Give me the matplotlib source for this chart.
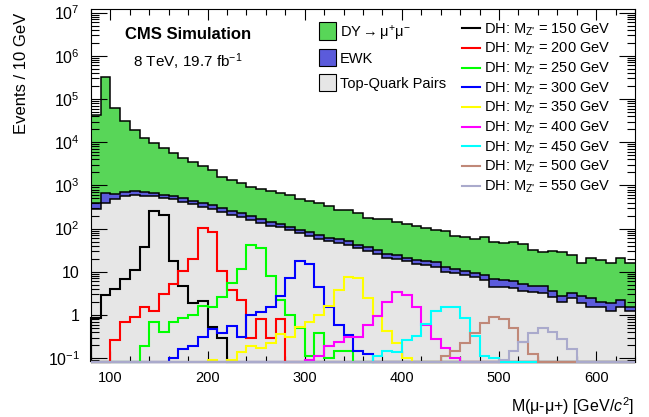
import numpy as np
import matplotlib
matplotlib.use("Agg")
import matplotlib.pyplot as plt
from matplotlib.patches import Rectangle
from matplotlib.lines import Line2D
from matplotlib.ticker import MultipleLocator, LogLocator, NullFormatter

plt.rcParams["font.family"] = ["Liberation Sans", "DejaVu Sans"]
plt.rcParams["mathtext.fontset"] = "custom"
plt.rcParams["mathtext.rm"] = "Liberation Sans"
plt.rcParams["mathtext.it"] = "Liberation Sans:italic"
plt.rcParams["mathtext.bf"] = "Liberation Sans:bold"
plt.rcParams["mathtext.sf"] = "Liberation Sans"

# ---- binning: 10 GeV bins from 80 to 640 GeV ----
edges = np.arange(80, 641, 10)

# ---- background processes (events per bin) ----
ttbar = [280, 388, 492, 564, 595, 574, 564, 508, 474, 416,
         369, 320, 287, 245, 209, 188, 157, 137, 116.5, 107,
         92.3, 77.8, 67.2, 58.6, 50.9, 47.0, 42.3, 35.6, 30.8, 26.1,
         21.4, 20.2, 17.6, 15.2, 14.1, 13.2, 9.7, 9.14, 8.3, 7.46,
         6.45, 4.5, 4.5, 4.23, 3.68, 3.41, 3.18, 2.59, 1.96, 2.41,
         1.87, 1.56, 1.51, 1.22, 1.56, 1.27]
ewk = [102, 292, 138, 136, 133, 127, 112, 99, 93, 94,
       73, 77, 59, 55, 43, 38, 39, 33, 27.5, 21,
       18.7, 16.5, 14.5, 12.4, 10.5, 9.6, 9.5, 6.6, 5.7, 5.7,
       4.7, 4.0, 3.7, 3.3, 3.9, 3.9, 3.5, 2.76, 2.3, 2.04,
       1.85, 2.2, 1.95, 1.77, 1.57, 1.29, 1.52, 0.91, 0.82, 0.78,
       0.82, 0.85, 0.54, 0.65, 0.67, 0.29]
dy = [41100, 319300, 62370, 30000, 18170, 12000, 8824, 6593, 4933, 3890,
      3008, 2443, 1874, 1290, 1058, 894, 739, 642, 606, 548,
      487, 397, 354, 314, 273, 218, 214, 192, 142.5, 138,
      139, 121, 107, 94.5, 83, 74.4, 74.4, 56.1, 54.1, 47.1,
      54.5, 42.2, 39.2, 42.9, 38, 26.8, 24.3, 26.8, 26.2, 21,
      13.6, 18.9, 16.45, 14.1, 18.7, 14.7]

# ---- dark-Higgs signal samples: (first bin low edge, bin contents) ----
dh_masses = [150, 200, 250, 300, 350, 400, 450, 500, 550]
dh150 = (80, [0.84, 2.93, 4.0, 6.8, 11, 38, 251, 210, 18, 4.65, 1.9, 2.12, 0.54, 0.30])
dh200 = (100, [0.267, 0.70, 0.876, 1.5, 1.26, 3.0, 5.2, 10.4, 19.4, 101, 84.5, 10.6,
               3.74, 2.2, 0.29, 0.81, 0.29, 0.81])
dh250 = (130, [0.187, 0.70, 0.41, 0.70, 0.84, 1.0, 1.6, 1.55, 2.63, 5.4, 11.6, 41, 35.8,
               8.0, 2.2, 1.0, 0.49, 0.11, 0.38, 0.10, 0.144, 0.144])
dh300 = (160, [0.10, 0.161, 0.192, 0.317, 0.466, 0.378, 0.555, 0.317, 1.0, 1.2, 1.54, 2.76,
               7.1, 17.8, 15.3, 4.47, 1.5, 0.573, 0.345, 0.144, 0.127])
dh350 = (200, [0.093, 0, 0.093, 0.142, 0.192, 0.17, 0.222, 0.36, 0.317, 0.52, 0.70, 1.01,
               1.63, 3.74, 7.75, 7.0, 2.48, 0.965, 0.43, 0.23, 0.101])
dh400 = (300, [0.093, 0.11, 0.187, 0.24, 0.305, 0.31, 0.593, 0.95, 2.04, 3.45, 2.85, 1.57,
               0.593, 0.275, 0.175, 0.10])
dh450 = (370, [0.11, 0.15, 0.14, 0.266, 0.326, 0.61, 1.21, 1.55, 1.53, 0.867, 0.335, 0.115, 0.10])
dh500 = (440, [0.11, 0.144, 0.222, 0.378, 0.663, 0.91, 0.8, 0.49, 0.24, 0.127])
dh550 = (500, [0.089, 0.149, 0.231, 0.387, 0.49, 0.413, 0.283, 0.162])
dh_samples = [dh150, dh200, dh250, dh300, dh350, dh400, dh450, dh500, dh550]
dh_colors = ["#000000", "#ff0000", "#00ff00", "#0000ff", "#ffff00",
             "#ff00ff", "#00ffff", "#c08878", "#aaaacc"]

ytick_values = [1e-1, 1, 10, 1e2, 1e3, 1e4, 1e5, 1e6, 1e7]
ytick_labels = ["10$^{-1}$", "1", "10", "10$^{2}$", "10$^{3}$", "10$^{4}$",
                "10$^{5}$", "10$^{6}$", "10$^{7}$"]

C_DY, C_EWK, C_TOP = "#58d658", "#5b5bdb", "#e6e6e6"
YMIN, YMAX = 0.083, 1.19e7

W, H = 649, 417
fig = plt.figure(figsize=(W / 100, H / 100), dpi=100)
fig.patch.set_facecolor("white")


def fx(px):
    return px / W


def fy(py):
    return 1 - py / H


ax = fig.add_axes([fx(91), fy(361.7), (635 - 91) / W, (361.7 - 9.3) / H])
ax.set_yscale("log")

# stacked backgrounds: top-quark pairs, EWK, Drell-Yan
lev1 = np.array(ttbar, dtype=float)
lev2 = lev1 + np.array(ewk, dtype=float)
lev3 = lev2 + np.array(dy, dtype=float)
ax.stairs(lev1, edges, baseline=1e-3, fill=True, facecolor=C_TOP, edgecolor="none", zorder=1)
ax.stairs(lev2, edges, baseline=lev1, fill=True, facecolor=C_EWK, edgecolor="none", zorder=1)
ax.stairs(lev3, edges, baseline=lev2, fill=True, facecolor=C_DY, edgecolor="none", zorder=1)
for lev in (lev1, lev2, lev3):
    ax.stairs(lev, edges, baseline=None, color="black", lw=1.1, zorder=1.5)

# signal histograms (bins below the frame minimum sit on the frame)
nbins = len(edges) - 1
for (start, vals), col in zip(dh_samples, dh_colors):
    full = np.zeros(nbins)
    i0 = (start - 80) // 10
    full[i0:i0 + len(vals)] = vals
    full = np.clip(full, YMIN, None)
    ax.stairs(full, edges, baseline=YMIN, color=col, lw=1.5, zorder=3, clip_on=False)

ax.set_xlim(80, 640)
ax.set_ylim(YMIN, YMAX)

ax.xaxis.set_major_locator(MultipleLocator(100))
ax.xaxis.set_minor_locator(MultipleLocator(20))
ax.set_yticks(ytick_values, ytick_labels)
ax.yaxis.set_minor_locator(LogLocator(base=10, subs=np.arange(2, 10), numticks=100))
ax.yaxis.set_minor_formatter(NullFormatter())
ax.tick_params(which="both", direction="in", top=True, right=True, width=0.8, color="black")
ax.tick_params(axis="x", which="major", length=8, pad=7, labelsize=10.5)
ax.tick_params(axis="x", which="minor", length=4.5)
ax.tick_params(axis="y", which="major", length=11.5, pad=8, labelsize=11.5)
ax.tick_params(axis="y", which="minor", length=5.5)
for sp in ax.spines.values():
    sp.set_linewidth(0.8)
    sp.set_color("black")

# titles and labels
fig.text(fx(125), fy(39.3), "CMS Simulation", fontsize=12, fontweight="bold",
         ha="left", va="baseline")
fig.text(fx(133), fy(67.3), "8 TeV, 19.7 fb$^{-1}$", fontsize=11, ha="left", va="baseline")
fig.text(fx(21.5), fy(73), "Events / 10 GeV", rotation=90, fontsize=12,
         ha="center", va="center")
fig.text(fx(634), fy(412), "M(\u03bc-\u03bc+) [GeV/$c^{2}$]", fontsize=11.5,
         ha="right", va="baseline")

# legend: filled backgrounds
bkg_entries = [(C_DY, "DY$\\rightarrow$\u03bc$^{+}$\u03bc$^{-}$", 22, 40, 37.3),
               (C_EWK, "EWK", 48.7, 66, 62.7),
               (C_TOP, "Top-Quark Pairs", 74, 90.7, 87.7)]
for col, lab, y0, y1, yb in bkg_entries:
    fig.add_artist(Rectangle((fx(319), fy(y1)), (336 - 319) / W, (y1 - y0) / H,
                             transform=fig.transFigure, facecolor=col,
                             edgecolor="black", lw=0.8))
    fig.text(fx(340), fy(yb), lab, fontsize=10.5, ha="left", va="baseline")

# legend: signal lines
for i, (m, col) in enumerate(zip(dh_masses, dh_colors)):
    yb = 33.3 + i * 19.67
    fig.add_artist(Line2D([fx(462), fx(480)], [fy(yb - 5), fy(yb - 5)],
                          transform=fig.transFigure, color=col, lw=1.5))
    fig.text(fx(484), fy(yb), "DH: M$_{\\text{Z'}}$ = %d GeV" % m, fontsize=10.5,
             ha="left", va="baseline")

fig.savefig("out.png", dpi=100)
